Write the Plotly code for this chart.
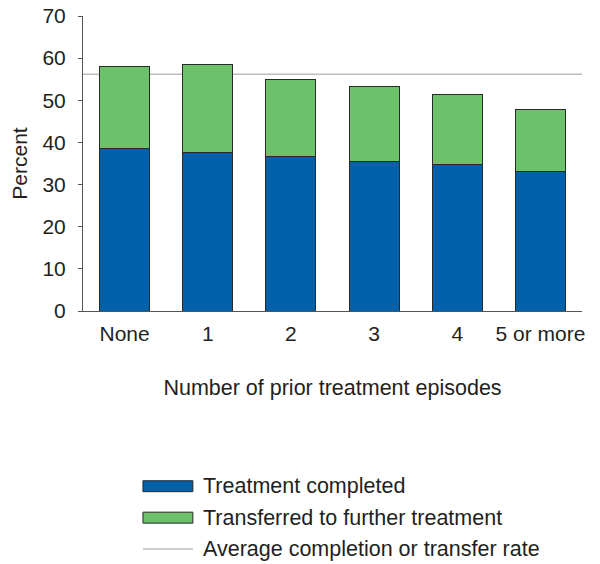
import plotly.graph_objects as go

categories = ["None", "1", "2", "3", "4", "5 or more"]
completed = [38.6, 37.6, 36.7, 35.5, 34.8, 33.2]
transferred = [19.3, 20.9, 18.3, 17.8, 16.5, 14.7]
avg_rate = 56.2
y_ticks = [0, 10, 20, 30, 40, 50, 60, 70]

series_names = ["Treatment completed", "Transferred to further treatment",
                "Average completion or transfer rate"]

BLUE = "#0060AA"
GREEN = "#6CC16B"
AVG = "#BDBDBD"
EDGE = "#2a2a2a"
TXT = "#231f20"
FONT = "Liberation Sans, Arial, Helvetica, sans-serif"

OFF = 8  # page body margin
W, H = 600 - OFF, 564 - OFF
L, R, T, B = 82.5 - OFF, 18, 15.5 - OFF, 253
pw, ph = W - L - R, H - T - B


def px(x):
    return (x - OFF - L) / pw


def py(y):
    return (H - B - (y - OFF)) / ph


fig = go.Figure()
fig.add_bar(x=categories, y=completed, name=series_names[0],
            marker=dict(color=BLUE, line=dict(color=EDGE, width=1)),
            width=0.6, showlegend=False)
fig.add_bar(x=categories, y=transferred, name=series_names[1],
            marker=dict(color=GREEN, line=dict(color=EDGE, width=1)),
            width=0.6, showlegend=False)

fig.add_hline(y=avg_rate, line=dict(color=AVG, width=1.5), layer="below")

# manual legend
rows = [486.5, 518, 549.5]
fills = [BLUE, GREEN, None]
for name, yc, fc in zip(series_names, rows, fills):
    if fc:
        fig.add_shape(type="rect", xref="paper", yref="paper",
                      x0=px(142.5), x1=px(192.5), y0=py(yc - 5.5), y1=py(yc + 5.5),
                      fillcolor=fc, line=dict(color=EDGE, width=1))
    else:
        fig.add_shape(type="line", xref="paper", yref="paper",
                      x0=px(142.5), x1=px(192.5), y0=py(yc), y1=py(yc),
                      line=dict(color=AVG, width=1.5))
    fig.add_annotation(text=name, xref="paper", yref="paper",
                       x=px(201), y=py(yc), xanchor="left", yanchor="middle",
                       showarrow=False, font=dict(size=21.5, color=TXT, family=FONT))

fig.update_layout(
    width=W, height=H,
    margin=dict(l=L, r=R, t=T, b=B, pad=0, autoexpand=False),
    barmode="stack",
    plot_bgcolor="white", paper_bgcolor="white",
    font=dict(family=FONT, size=21, color=TXT),
    showlegend=False,
)
fig.update_xaxes(
    type="category", range=[-0.5, 5.5], automargin=False,
    showline=True, linecolor="#555555", linewidth=1,
    ticks="", showgrid=False, ticklabelstandoff=4,
    tickfont=dict(size=21, color=TXT),
    title=dict(text="Number of prior treatment episodes", standoff=35,
               font=dict(size=21.5, color=TXT)),
)
fig.update_yaxes(
    range=[0, 70], tickvals=y_ticks, automargin=False,
    showline=True, linecolor="#555555", linewidth=1,
    ticks="outside", ticklen=4, tickcolor="#555555",
    showgrid=False, zeroline=False, ticklabelstandoff=8,
    ticklabeloverflow="allow",
    tickfont=dict(size=21, color=TXT),
    title=dict(text="Percent", standoff=10, font=dict(size=21, color=TXT)),
)

fig.write_html("out.html")
